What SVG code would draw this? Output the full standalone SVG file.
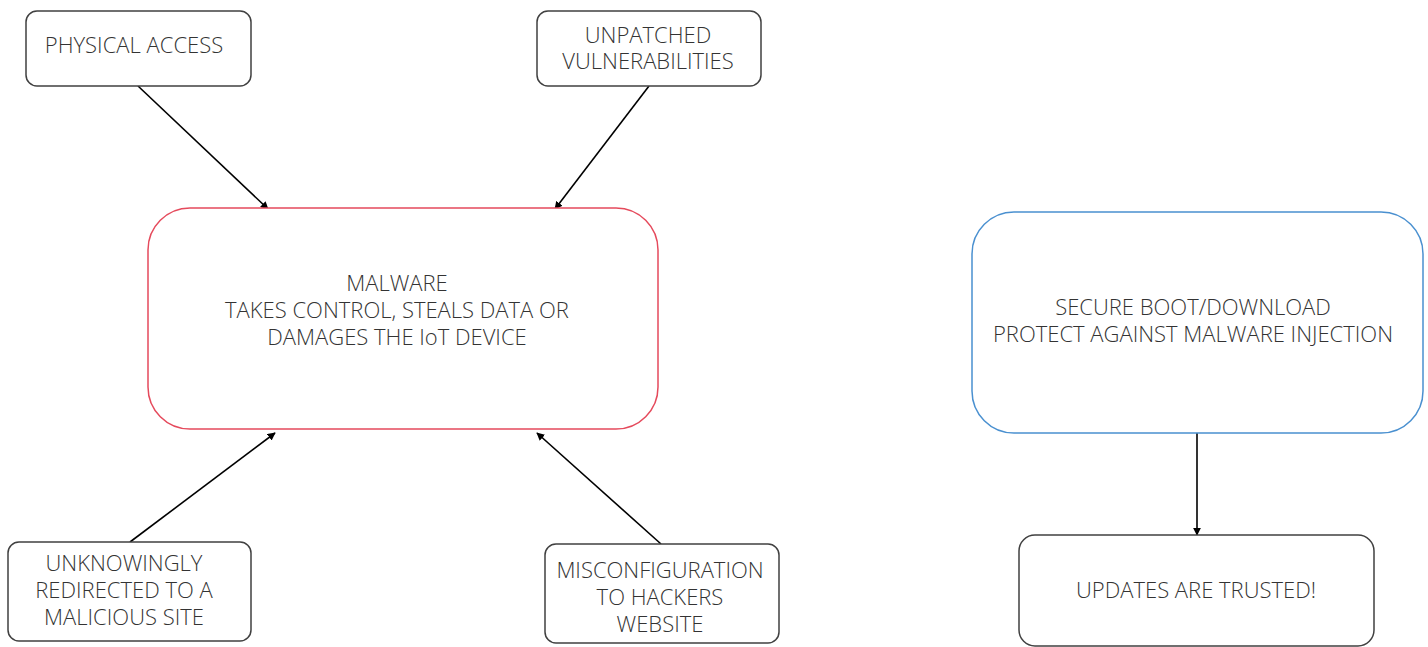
<svg xmlns="http://www.w3.org/2000/svg" width="1428" height="647" viewBox="0 0 1428 647">
<defs>
<marker id="ah" viewBox="0 0 10 10" refX="9" refY="5" markerWidth="8" markerHeight="8" markerUnits="userSpaceOnUse" orient="auto">
<path d="M0,0 L10,5 L0,10 z" fill="#000"/>
</marker>
</defs>
<style>
.box{fill:#fff;stroke:#404040;stroke-width:1.5}
.red{fill:#fff;stroke:#e54a5c;stroke-width:1.5}
.blue{fill:#fff;stroke:#4a90d0;stroke-width:1.5}
text{font-family:"Open Sans","Noto Sans",sans-serif;font-weight:300;font-size:22px;fill:#333;text-anchor:middle}
.conn line{stroke:#000;stroke-width:1.6;marker-end:url(#ah)}
</style>
<rect width="1428" height="647" fill="#fff"/>
<g class="conn" id="connectors">
<line x1="138" y1="86" x2="268" y2="209"/>
<line x1="649" y1="86" x2="555" y2="209"/>
<line x1="130" y1="542" x2="275" y2="433"/>
<line x1="661" y1="544" x2="537" y2="433"/>
<line x1="1197" y1="433" x2="1197" y2="535"/>
</g>
<g id="physical">
<rect class="box" x="26" y="11" width="225" height="75" rx="11"/>
<text x="134" y="53">PHYSICAL ACCESS</text>
</g>
<g id="unpatched">
<rect class="box" x="537" y="11" width="224" height="75" rx="11"/>
<text x="648" y="43">UNPATCHED</text>
<text x="648" y="69">VULNERABILITIES</text>
</g>
<g id="malware">
<rect class="red" x="148" y="208" width="510" height="221" rx="42"/>
<text x="397" y="291">MALWARE</text>
<text x="397" y="318">TAKES CONTROL, STEALS DATA OR</text>
<text x="397" y="345">DAMAGES THE IoT DEVICE</text>
</g>
<g id="unknowingly">
<rect class="box" x="8" y="542" width="243" height="99" rx="11"/>
<text x="124" y="571">UNKNOWINGLY</text>
<text x="124" y="598">REDIRECTED TO A</text>
<text x="124" y="625">MALICIOUS SITE</text>
</g>
<g id="misconfig">
<rect class="box" x="545" y="544" width="234" height="99" rx="11"/>
<text x="660" y="578">MISCONFIGURATION</text>
<text x="660" y="605">TO HACKERS</text>
<text x="660" y="632">WEBSITE</text>
</g>
<g id="secure">
<rect class="blue" x="972" y="212" width="451" height="221" rx="42"/>
<text x="1193" y="315">SECURE BOOT/DOWNLOAD</text>
<text x="1193" y="342">PROTECT AGAINST MALWARE INJECTION</text>
</g>
<g id="updates">
<rect class="box" x="1019" y="535" width="355" height="111" rx="16"/>
<text x="1196" y="598">UPDATES ARE TRUSTED!</text>
</g>
</svg>
